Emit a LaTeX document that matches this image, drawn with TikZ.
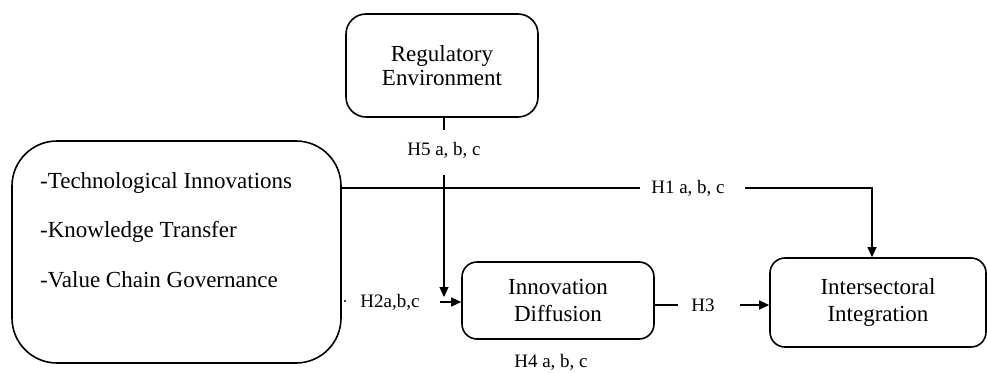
\documentclass[tikz,border=0pt]{standalone}
\usepackage{fontspec}
\setmainfont{Liberation Serif}
\usetikzlibrary{arrows.meta}
\begin{document}
\begin{tikzpicture}[x=1pt,y=-1pt,
  box/.style={draw, line width=1.6pt, rounded corners=#1, inner sep=0pt, align=center,
              font=\fontsize{23}{26.5}\selectfont},
  box/.default=15pt,
  conn/.style={line width=1.1pt},
  arr/.style={conn,-{Triangle[length=10pt,width=9pt]}},
  lbl/.style={font=\fontsize{19}{22}\selectfont, inner sep=0pt},
  item/.style={font=\fontsize{23}{26}\selectfont, inner sep=0pt, anchor=base west}
]
\useasboundingbox (0,0) rectangle (987,372);

% boxes
\node[box=20pt, minimum width=192pt, minimum height=103pt,
      font=\fontsize{23}{24.5}\selectfont] (reg) at (442,65.5) {Regulatory\\Environment};
\node[box=45pt, minimum width=329pt, minimum height=222pt] (left) at (176.5,252) {};
\node[item] (t1) at (40,188) {-Technological Innovations};
\node[item] (t2) at (40,237) {-Knowledge Transfer};
\node[item] (t3) at (40,287) {-Value Chain Governance};
\node[box, minimum width=192pt, minimum height=77pt] (innov) at (558,300.5) {Innovation\\Diffusion};
\node[box, minimum width=216pt, minimum height=89pt] (inter) at (878,302.5) {Intersectoral\\Integration};

% H5
\node[lbl] (h5) at (444,150) {H5 a, b, c};
\coordinate (h5a) at (444,130);
\coordinate (h5b) at (444,175);
\coordinate (h5tip) at (444,297);
\draw[conn] (reg.south -| h5a) -- (h5a);
\draw[arr] (h5b) -- (h5tip);

% H1
\node[lbl] (h1) at (688,188) {H1 a, b, c};
\coordinate (h1a) at (640,188);
\coordinate (h1b) at (745,188);
\coordinate (h1c) at (872,188);
\draw[conn] (left.east |- h1a) -- (h1a);
\draw[arr] (h1b) -- (h1c) -- (inter.north -| h1c);

% H2
\node[circle, fill, inner sep=0.8pt] (dot) at (345,301) {};
\node[lbl] (h2) at (390,302) {H2a,b,c};
\coordinate (h2a) at (440,302);
\draw[arr] (h2a) -- (innov.west |- h2a);

% H3
\coordinate (h3a) at (678,305);
\draw[conn] (innov.east |- h3a) -- (h3a);
\node[lbl] (h3) at (703,305) {H3};
\coordinate (h3b) at (740,305);
\draw[arr] (h3b) -- (inter.west |- h3b);

% H4
\node[lbl] (h4) at (551,362) {H4 a, b, c};
\end{tikzpicture}
\end{document}
